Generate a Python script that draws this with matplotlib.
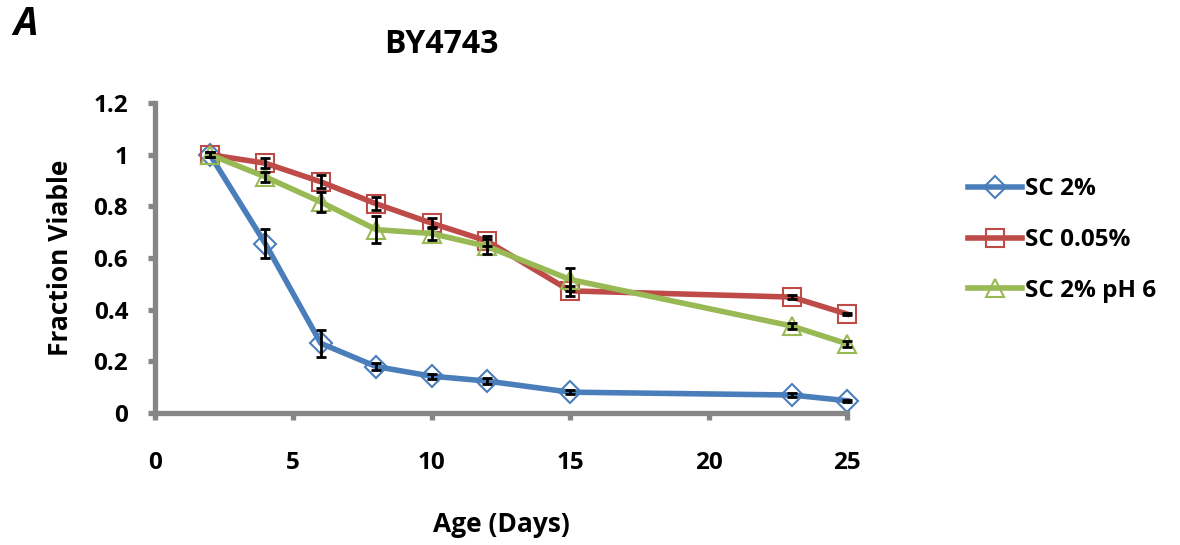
import matplotlib
matplotlib.use("Agg")
import matplotlib.pyplot as plt

plt.rcParams['font.family'] = ['Open Sans', 'DejaVu Sans']
plt.rcParams['font.weight'] = 'bold'

# Days
days = [2, 4, 6, 8, 10, 12, 15, 23, 25]

# Fraction viable per condition
sc2 = [1.0, 0.655, 0.27, 0.18, 0.143, 0.124, 0.081, 0.07, 0.048]
sc2_err = [0.01, 0.056, 0.052, 0.012, 0.01, 0.01, 0.008, 0.006, 0.004]
sc005 = [1.0, 0.967, 0.895, 0.81, 0.735, 0.666, 0.473, 0.449, 0.383]
sc005_err = [0.01, 0.02, 0.025, 0.025, 0.02, 0.02, 0.02, 0.008, 0.004]
ph6 = [1.0, 0.914, 0.817, 0.71, 0.695, 0.645, 0.517, 0.337, 0.268]
ph6_err = [0.01, 0.02, 0.04, 0.052, 0.025, 0.03, 0.045, 0.012, 0.012]

labels = ["SC 2%", "SC 0.05%", "SC 2% pH 6"]
colors = ["#4a7ebb", "#be4b48", "#98b954"]
markers = ["D", "s", "^"]
msizes = [11, 13, 13]

fig = plt.figure(figsize=(11.8, 5.45), dpi=100)
ax = fig.add_axes([0.131, 0.242, 0.587, 0.569])

series = [(sc2, sc2_err), (sc005, sc005_err), (ph6, ph6_err)]
for (vals, err), lab, col, mk, ms in zip(series, labels, colors, markers, msizes):
    ax.errorbar(days, vals, yerr=err, fmt='none', ecolor='black', elinewidth=2,
                capsize=3.8, capthick=2, zorder=3, clip_on=False)
    ax.plot(days, vals, color=col, lw=4, marker=mk, ms=ms, mfc='none',
            mec=col, mew=1.5, label=lab, zorder=2, clip_on=False)

ax.set_xlim(0, 25)
ax.set_ylim(0, 1.2)
ax.set_xticks([0, 5, 10, 15, 20, 25])
ax.set_yticks([0, 0.2, 0.4, 0.6, 0.8, 1.0, 1.2])
ax.set_yticklabels(["0", "0.2", "0.4", "0.6", "0.8", "1", "1.2"])

for s in ['top', 'right']:
    ax.spines[s].set_visible(False)
for s in ['left', 'bottom']:
    ax.spines[s].set_color('#868686')
    ax.spines[s].set_linewidth(3.8)
ax.tick_params(axis='both', direction='out', length=5, width=3.8, color='#868686',
               labelsize=17.5)
ax.tick_params(axis='y', pad=14)
ax.tick_params(axis='x', pad=22)
for t in ax.get_xticklabels() + ax.get_yticklabels():
    t.set_fontweight('bold')

ax.set_xlabel("Age (Days)", fontsize=19, fontweight='bold', labelpad=26)
ax.set_ylabel("Fraction Viable", fontsize=19, fontweight='bold', labelpad=14)

fig.text(0.374, 0.918, "BY4743", fontsize=23, fontweight='bold', ha='center', va='center')
fig.text(0.022, 0.955, "A", fontsize=28, fontweight='bold', style='italic', ha='center', va='center')

ax.legend(loc='center left', bbox_to_anchor=(1.143, 0.558), frameon=False,
          prop={'weight': 'bold', 'size': 17.5},
          handlelength=2.2, handletextpad=0.15, labelspacing=1.1)

fig.savefig("out.png", dpi=100)
